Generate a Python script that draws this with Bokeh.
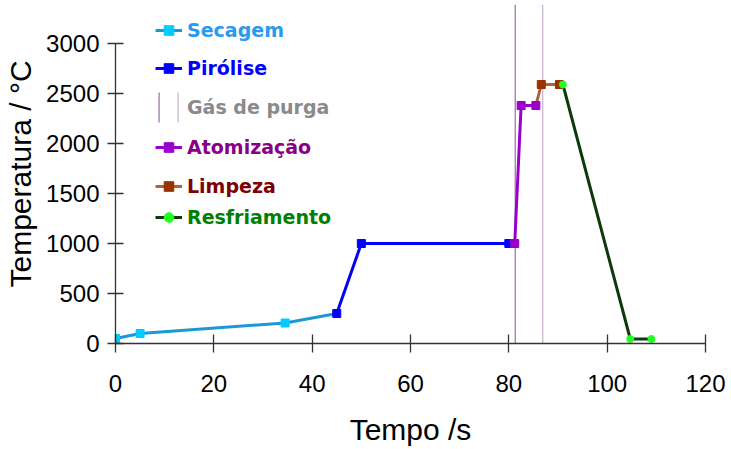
from bokeh.plotting import figure
from bokeh.models import Legend, LegendItem, Span, BoxAnnotation, Range1d, FixedTicker
from bokeh.embed import file_html
from bokeh.resources import INLINE

# Graphite furnace temperature program: time (s) vs temperature (°C)
secagem_t = [0, 5, 34.5, 45]
secagem_T = [50, 100, 205, 300]
pirolise_t = [45, 50, 80]
pirolise_T = [300, 1000, 1000]
atomizacao_t = [81.2, 82.5, 85.5]
atomizacao_T = [1000, 2380, 2380]
limpeza_t = [85.5, 86.6, 90.3]
limpeza_T = [2380, 2590, 2590]
resfriamento_t = [91, 104.7, 109]
resfriamento_T = [2590, 45, 45]
purga_t = [81.3, 86.9]

x_ticks = [0, 20, 40, 60, 80, 100, 120]
y_ticks = [0, 500, 1000, 1500, 2000, 2500, 3000]

W, H = 731, 449
LEFT, RIGHT, TOP, BOTTOM = 115, 26, 4, 106

p = figure(width=W, height=H, output_backend="svg", toolbar_location=None,
           x_range=Range1d(0, 120), y_range=Range1d(0, 3390),
           min_border_left=LEFT, min_border_right=RIGHT,
           min_border_top=TOP, min_border_bottom=BOTTOM)
p.outline_line_color = None
p.grid.visible = False
p.background_fill_color = "white"
p.border_fill_color = "white"

for ax in (p.xaxis[0], p.yaxis[0]):
    ax.axis_line_color = "#333333"
    ax.axis_line_width = 1.3
    ax.major_tick_line_color = "#333333"
    ax.major_tick_line_width = 1.3
    ax.minor_tick_line_color = None
    ax.major_label_text_font = "Liberation Sans"
    ax.major_label_text_font_size = "24px"
    ax.major_label_text_color = "black"
    ax.axis_label_text_font = "Liberation Sans"
    ax.axis_label_text_font_size = "30px"
    ax.axis_label_text_font_style = "normal"
    ax.axis_label_text_color = "black"

p.xaxis.ticker = FixedTicker(ticks=x_ticks)
p.yaxis.ticker = FixedTicker(ticks=y_ticks)
p.yaxis.bounds = (0, 3000)
p.xaxis.major_tick_in = 9
p.xaxis.major_tick_out = 9
p.yaxis.major_tick_in = 8
p.yaxis.major_tick_out = 8
p.xaxis.major_label_standoff = 22
p.yaxis.major_label_standoff = 8
p.xaxis.axis_label = "Tempo /s"
p.yaxis.axis_label = "Temperatura / °C"
p.xaxis.axis_label_standoff = 18
p.yaxis.axis_label_standoff = 6

# purge gas markers
purga_colors = ["#9a6aae", "#c6b0cf"]
for t, c in zip(purga_t, purga_colors):
    p.add_layout(Span(location=t, dimension="height", line_color=c,
                      line_width=1.2, level="underlay"))

# program segments
l_sec = p.line(secagem_t, secagem_T, line_color="#1c98d4", line_width=3)
l_pir = p.line(pirolise_t, pirolise_T, line_color="#0000ff", line_width=3)
l_ato = p.line(atomizacao_t, atomizacao_T, line_color="#9a00cc", line_width=3)
l_lim = p.line(limpeza_t, limpeza_T, line_color="#b0603a", line_width=3)
l_res = p.line(resfriamento_t, resfriamento_T, line_color="#0d3a0d", line_width=3)

m_sec = p.scatter(secagem_t[:-1], secagem_T[:-1], marker="square", size=8,
                  fill_color="#00ccff", line_color="#00ccff")
m_pir = p.scatter(pirolise_t, pirolise_T, marker="square", size=8,
                  fill_color="#0000ff", line_color="#0000ff")
m_ato = p.scatter(atomizacao_t, atomizacao_T, marker="square", size=8,
                  fill_color="#9a00cc", line_color="#9a00cc")
m_lim = p.scatter(limpeza_t[1:], limpeza_T[1:], marker="square", size=8,
                  fill_color="#993300", line_color="#993300")
m_res = p.scatter(resfriamento_t, resfriamento_T, marker="circle", size=7,
                  fill_color="#22ff22", line_color="#22ff22")

# legend entries, one per stage with its own text colour
entries = [
    ("Secagem", "#2a9af0", [l_sec, m_sec], 30),
    ("Pirólise", "#0000ff", [l_pir, m_pir], 68),
    ("Gás de purga", "#8a8a8a", [p.line(x=[], y=[], line_alpha=0)], 107),
    ("Atomização", "#880088", [l_ato, m_ato], 147),
    ("Limpeza", "#800000", [l_lim, m_lim], 186),
    ("Resfriamento", "#008000", [l_res, m_res], 217),
]

ITEM_H = 24
for label, tcolor, rs, cy in entries:
    lg = Legend(items=[LegendItem(label=label, renderers=rs)],
                location=(155 - LEFT, (H - BOTTOM) - cy - ITEM_H // 2),
                margin=0, padding=0, spacing=0,
                glyph_width=27, glyph_height=ITEM_H, label_height=ITEM_H,
                label_standoff=5,
                label_text_font="DejaVu Sans", label_text_font_style="bold",
                label_text_font_size="19px", label_text_color=tcolor,
                border_line_alpha=0, background_fill_alpha=0)
    p.add_layout(lg)

# two thin bars standing for the purge-gas lines in the legend
for bx, c in zip([158, 177], purga_colors):
    p.add_layout(BoxAnnotation(left=bx - LEFT, right=bx - LEFT + 1.2,
                               bottom=(H - BOTTOM) - 122, top=(H - BOTTOM) - 92,
                               left_units="screen", right_units="screen",
                               top_units="screen", bottom_units="screen",
                               fill_color=c, fill_alpha=1, line_alpha=0))

open("out.html", "w").write(file_html(p, INLINE))
